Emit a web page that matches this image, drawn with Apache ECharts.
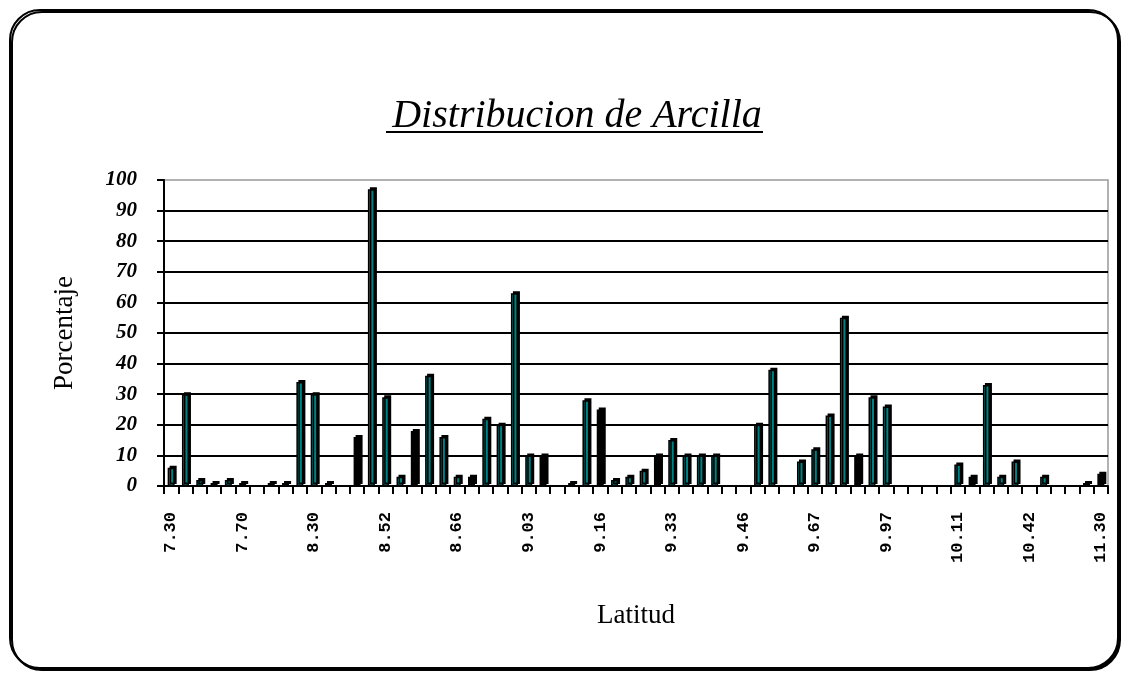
<!DOCTYPE html>
<html>
<head>
<meta charset="utf-8">
<title>Distribucion de Arcilla</title>
<script src="https://cdn.jsdelivr.net/npm/echarts@6/dist/echarts.min.js"></script>
<style>
    html, body { margin: 0; padding: 0; background: #fff; }
    #chart { width: 1130px; height: 675px; }
</style>
</head>
<body>
<div id="chart"></div>
<script>
// etiquetas visibles del eje X (una cada 5 muestras)
var tickLabels = ['7.30', '7.70', '8.30', '8.52', '8.66', '9.03', '9.16',
    '9.33', '9.46', '9.67', '9.97', '10.11', '10.42', '11.30'];

// porcentaje de arcilla por muestra (66 muestras)
var arcilla = [
    6, 30, 2, 1, 2, 1, 0, 1, 1, 34,
    30, 1, 0, 16, 97, 29, 3, 18, 36, 16,
    3, 3, 22, 20, 63, 10, 10, 0, 1, 28,
    25, 2, 3, 5, 10, 15, 10, 10, 10, 0,
    0, 20, 38, 0, 8, 12, 23, 55, 10, 29,
    26, 0, 0, 0, 0, 7, 3, 33, 3, 8,
    0, 3, 0, 0, 1, 4
];

// muestras que aparecen en negro en el grafico original
var barrasNegras = [13, 17, 21, 26, 30, 34, 48, 56, 65];

var yTicks = [0, 10, 20, 30, 40, 50, 60, 70, 80, 90, 100];

(function () {
    'use strict';

    var categorias = arcilla.map(function (v, i) {
        return i % 5 === 0 ? tickLabels[i / 5] : '';
    });
    // sin barra cuando el valor es 0
    var datos = arcilla.map(function (v) {
        return v === 0 ? '-' : v;
    });

    var myChart = echarts.init(document.getElementById('chart'));

    var option = {
        backgroundColor: '#fff',
        animation: false,
        graphic: [
            {
                type: 'rect',
                z: -10,
                shape: { x: 10, y: 10, width: 1108, height: 658, r: 30 },
                style: {
                    fill: '#fff', stroke: '#000', lineWidth: 2,
                    shadowColor: '#000', shadowOffsetX: 2, shadowOffsetY: 2, shadowBlur: 0
                }
            },
            {
                type: 'line',
                shape: { x1: 386, y1: 132, x2: 763, y2: 132 },
                style: { stroke: '#000', lineWidth: 2 }
            }
        ],
        title: {
            text: 'Distribucion de Arcilla',
            left: 572,
            top: 91,
            textAlign: 'center',
            textStyle: {
                fontFamily: 'Liberation Serif',
                fontStyle: 'italic',
                fontWeight: 'normal',
                fontSize: 40,
                color: '#000'
            }
        },
        grid: {
            left: 164,
            right: 22,
            top: 180,
            bottom: 189,
            show: true,
            borderColor: '#999',
            borderWidth: 1.5
        },
        xAxis: {
            type: 'category',
            data: categorias,
            name: 'Latitud',
            nameLocation: 'middle',
            nameGap: 116,
            nameTextStyle: { fontFamily: 'Liberation Serif', fontSize: 27, color: '#000' },
            axisLine: { lineStyle: { color: '#000', width: 2 } },
            axisTick: { show: true, interval: 0, length: 8, lineStyle: { color: '#000', width: 2 } },
            axisLabel: {
                interval: 4,
                rotate: 90,
                margin: 26,
                fontFamily: 'Liberation Mono',
                fontWeight: 'bold',
                fontSize: 17,
                color: '#000'
            }
        },
        yAxis: {
            type: 'value',
            min: yTicks[0],
            max: yTicks[yTicks.length - 1],
            interval: 10,
            name: 'Porcentaje',
            nameLocation: 'middle',
            nameGap: 86,
            nameTextStyle: { fontFamily: 'Liberation Serif', fontSize: 27, color: '#000' },
            axisLine: { show: true, lineStyle: { color: '#000', width: 2 } },
            axisTick: { show: true, length: 7, lineStyle: { color: '#000', width: 2 } },
            axisLabel: {
                margin: 27,
                fontFamily: 'Liberation Serif',
                fontStyle: 'italic',
                fontWeight: 'bold',
                fontSize: 21,
                color: '#000'
            },
            splitLine: { show: true, showMaxLine: false, lineStyle: { color: '#000', width: 2 } }
        },
        series: [{
            type: 'bar',
            data: datos,
            barWidth: 7,
            itemStyle: {
                color: function (p) {
                    return barrasNegras.indexOf(p.dataIndex) >= 0 ? '#000' : '#008080';
                },
                borderColor: '#000',
                borderWidth: 1.5,
                shadowColor: '#000',
                shadowOffsetX: 2,
                shadowOffsetY: -2,
                shadowBlur: 0
            }
        }]
    };

    myChart.setOption(option);
})();
</script>
</body>
</html>
